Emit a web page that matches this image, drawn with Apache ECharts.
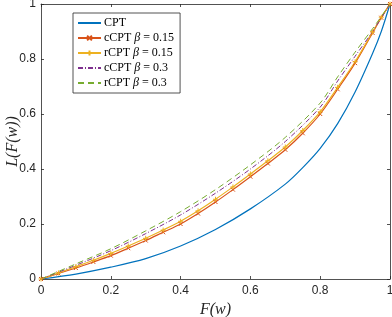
<!DOCTYPE html>
<html><head><meta charset="utf-8">
<script src="https://cdn.jsdelivr.net/npm/echarts@6/dist/echarts.min.js"></script>
<style>html,body{margin:0;padding:0;background:#fff}#c{width:392px;height:317px}</style>
</head><body><div id="c"></div>
<script>
const xTicks = [0, 0.2, 0.4, 0.6, 0.8, 1];
const yTicks = [0, 0.2, 0.4, 0.6, 0.8, 1];

const cptX = [0, 0.1, 0.2, 0.3, 0.4, 0.5, 0.6, 0.7, 0.75, 0.8, 0.85, 0.9, 0.95, 0.975, 1];
const cptY = [0, 0.018, 0.043, 0.074, 0.12, 0.18, 0.255, 0.345, 0.405, 0.475, 0.565, 0.68, 0.82, 0.9, 1];

const mX = [0, 0.05, 0.1, 0.15, 0.2, 0.25, 0.3, 0.35, 0.4, 0.45, 0.5, 0.55, 0.6, 0.65, 0.7, 0.75, 0.8, 0.85, 0.9, 0.95, 0.975, 1];
const cCPT015 = [0, 0.02, 0.04, 0.062, 0.085, 0.112, 0.14, 0.17, 0.2, 0.238, 0.28, 0.325, 0.372, 0.42, 0.47, 0.53, 0.6, 0.69, 0.785, 0.895, 0.95, 1];
const rCPT015 = [0, 0.022, 0.045, 0.068, 0.093, 0.12, 0.148, 0.178, 0.21, 0.248, 0.29, 0.335, 0.382, 0.43, 0.48, 0.54, 0.608, 0.697, 0.79, 0.898, 0.952, 1];

const dX = [0, 0.1, 0.2, 0.3, 0.4, 0.5, 0.6, 0.7, 0.8, 0.85, 0.9, 0.95, 1];
const cCPT03 = [0, 0.05, 0.103, 0.165, 0.233, 0.312, 0.4, 0.5, 0.625, 0.72, 0.81, 0.9, 1];
const rCPT03 = [0, 0.055, 0.11, 0.175, 0.245, 0.325, 0.415, 0.515, 0.64, 0.735, 0.825, 0.91, 1];

const names = ['CPT', 'cCPT β = 0.15', 'rCPT β = 0.15', 'cCPT β = 0.3', 'rCPT β = 0.3'];
const colors = ['#0072BD', '#D95319', '#EDB120', '#7E2F8E', '#77AC30'];

const zip = (xs, ys) => xs.map((x, i) => [x, ys[i]]);
const axisColor = '#262626';
const xMark = 'path://M0,0L10,10M10,0L0,10';
const plusMark = 'path://M5,0L5,10M0,5L10,5';

const chart = echarts.init(document.getElementById('c'), null, {renderer: 'canvas'});
const baseAxis = {
  type: 'value', min: 0, max: 1, interval: 0.2,
  axisLine: {show: true, onZero: false, lineStyle: {color: axisColor, width: 0.8}},
  axisTick: {show: true, inside: true, length: 3, lineStyle: {color: axisColor, width: 0.8}},
  splitLine: {show: false}
};
const labelStyle = {color: axisColor, fontFamily: 'Liberation Sans, Arial, sans-serif', fontSize: 12,
  formatter: v => (xTicks.includes(v) || yTicks.includes(v)) ? String(+v.toFixed(1)) : ''};

const legendRich = {
  a: {fontFamily: 'Liberation Serif, serif', fontSize: 12, lineHeight: 12, color: '#000'},
  b: {fontFamily: 'Liberation Serif, serif', fontStyle: 'italic', fontSize: 12, lineHeight: 12, color: '#000'}
};
const nameFont = {fontFamily: 'Liberation Serif, serif', fontStyle: 'italic', fontSize: 16, color: axisColor};

chart.setOption({
  animation: false,
  backgroundColor: '#fff',
  grid: {left: 41, right: 2, top: 4, bottom: 38, containLabel: false, outerBoundsMode: 'none'},
  xAxis: [
    Object.assign({}, baseAxis, {position: 'bottom', axisLabel: Object.assign({}, labelStyle, {margin: 6}),
      name: 'F(w)', nameLocation: 'middle', nameGap: 17, nameTextStyle: nameFont}),
    Object.assign({}, baseAxis, {position: 'top', axisLabel: {show: false}})
  ],
  yAxis: [
    Object.assign({}, baseAxis, {position: 'left', axisLabel: Object.assign({}, labelStyle, {margin: 5}),
      name: 'L(F(w))', nameLocation: 'middle', nameGap: 20, nameMoveOverlap: false, nameTextStyle: nameFont}),
    Object.assign({}, baseAxis, {position: 'right', axisLabel: {show: false}})
  ],
  legend: {
    orient: 'vertical', left: 73, top: 13, padding: [4, 6, 4, 4], itemGap: 3,
    itemWidth: 23, itemHeight: 6,
    backgroundColor: '#fff', borderColor: '#262626', borderWidth: 0.8,
    data: names.map((n, i) => (i === 0 || i >= 3) ? {name: n, itemStyle: {opacity: 0}} : {name: n}),
    formatter: n => {
      const m = n.match(/^(\S+) β = (.+)$/);
      return m ? '{a|' + m[1] + ' }{b|β}{a| = ' + m[2] + '}' : '{a|' + n + '}';
    },
    textStyle: {rich: legendRich, lineHeight: 12, padding: [0, 0, 0, -2]}
  },
  series: [
    {name: names[0], type: 'line', data: zip(cptX, cptY), smooth: 0.3, showSymbol: false, symbol: 'none',
      lineStyle: {color: colors[0], width: 1.2}, itemStyle: {color: colors[0]}},
    {name: names[1], type: 'line', data: zip(mX, cCPT015), smooth: 0.3, symbol: xMark, symbolSize: 4,
      lineStyle: {color: colors[1], width: 1.2}, itemStyle: {color: colors[1], borderColor: colors[1], borderWidth: 1}},
    {name: names[2], type: 'line', data: zip(mX, rCPT015), smooth: 0.3, symbol: plusMark, symbolSize: 5,
      lineStyle: {color: colors[2], width: 1.2}, itemStyle: {color: colors[2], borderColor: colors[2], borderWidth: 1}},
    {name: names[3], type: 'line', data: zip(dX, cCPT03), smooth: 0.3, showSymbol: false, symbol: 'none',
      lineStyle: {color: colors[3], width: 1, type: [5, 2, 1, 2]}, itemStyle: {color: colors[3]}},
    {name: names[4], type: 'line', data: zip(dX, rCPT03), smooth: 0.3, showSymbol: false, symbol: 'none',
      lineStyle: {color: colors[4], width: 1, type: [6, 4]}, itemStyle: {color: colors[4]}}
  ]
});
</script></body></html>
